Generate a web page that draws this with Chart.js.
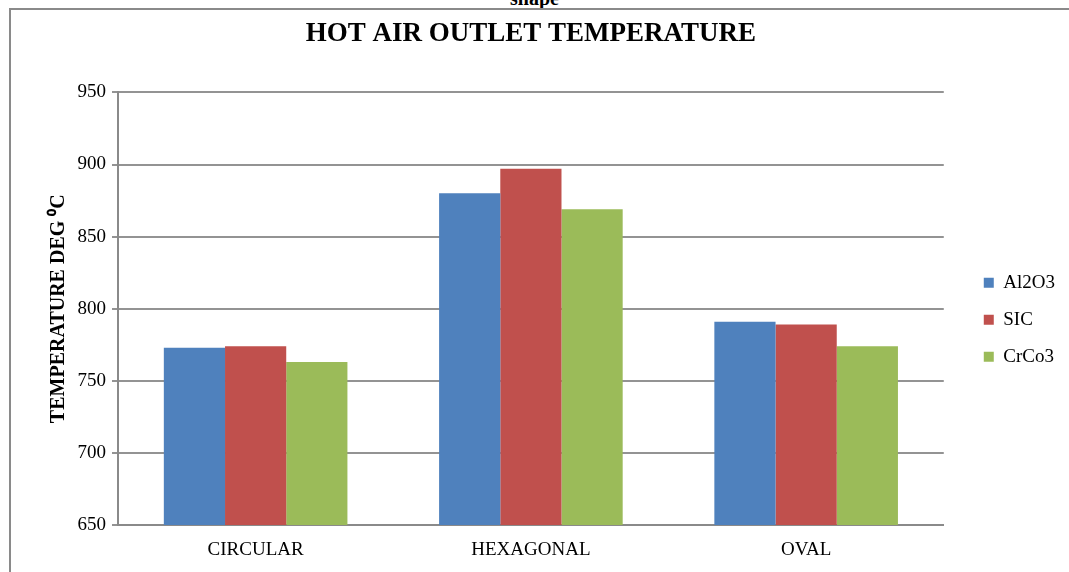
<!DOCTYPE html>
<html>
<head>
<meta charset="utf-8">
<script src="https://cdn.jsdelivr.net/npm/chart.js@4"></script>
<style>
  body { margin: 0; background: #fff; width: 1069px; height: 572px; overflow: hidden; position: relative; font-family: "Liberation Serif", serif; }
  #cut { position: absolute; top: -13px; left: 0; width: 1069px; text-align: center; font-weight: bold; font-size: 20px; }
  #frame { position: absolute; left: 9px; top: 8px; width: 1080px; height: 570px; border: 2px solid #8a8a8a; border-bottom: none; border-right: none; box-sizing: border-box; }
  #wrap { position: absolute; left: 11px; top: 10px; width: 1054px; height: 562px; }
</style>
</head>
<body>
<div id="cut">shape</div>
<div id="frame"></div>
<div id="wrap"><canvas id="chart"></canvas></div>
<script>
// Temperatura izlaznog vazduha po obliku
const categories = ['CIRCULAR', 'HEXAGONAL', 'OVAL'];
const al2o3 = [773, 880, 791];
const sic = [774, 897, 789];
const crco3 = [763, 869, 774];
const yTicks = [650, 700, 750, 800, 850, 900, 950];

const serif = 'Liberation Serif';

new Chart(document.getElementById('chart'), {
    type: 'bar',
    data: {
        labels: categories,
        datasets: [
            { label: 'Al2O3', data: al2o3, backgroundColor: '#4f81bd' },
            { label: 'SIC', data: sic, backgroundColor: '#c0504d' },
            { label: 'CrCo3', data: crco3, backgroundColor: '#9bbb59' }
        ]
    },
    options: {
        responsive: true,
        maintainAspectRatio: false,
        animation: false,
        categoryPercentage: 0.667,
        barPercentage: 1,
        layout: { padding: 0 },
        plugins: {
            title: {
                display: true,
                fullSize: false,
                text: 'HOT AIR OUTLET TEMPERATURE',
                color: '#000',
                font: { family: serif, size: 27, weight: 'bold' },
                padding: { top: 8, bottom: 42 }
            },
            legend: {
                position: 'right',
                fullSize: false,
                maxWidth: 100,
                // prazan naslov samo spusta stavke legende
                title: { display: true, text: '', font: { size: 10 }, padding: 5 },
                labels: {
                    color: '#000',
                    font: { family: serif, size: 19 },
                    boxWidth: 10,
                    boxHeight: 10,
                    padding: 18
                }
            },
            tooltip: { enabled: false }
        },
        scales: {
            x: {
                grid: { display: false },
                border: { display: true, color: '#8a8a8a', width: 2 },
                ticks: { color: '#000', font: { family: serif, size: 19 }, padding: 6 },
                afterFit: axis => { axis.height = 47; }
            },
            y: {
                min: 650,
                max: 950,
                afterBuildTicks: axis => { axis.ticks = yTicks.map(v => ({ value: v })); },
                afterFit: axis => { axis.width = 107; },
                grid: { color: '#939393', lineWidth: 2, tickLength: 6 },
                border: { display: true, color: '#8a8a8a', width: 2 },
                ticks: { color: '#000', font: { family: serif, size: 19 }, padding: 6 },
                title: {
                    display: true,
                    text: 'TEMPERATURE DEG ⁰C',
                    color: '#000',
                    font: { family: serif, size: 20, weight: 'bold' },
                    padding: { top: 36, bottom: 0 }
                }
            },
            // prazna osa desno, samo za razmak do legende
            gap: {
                position: 'right',
                display: true,
                grid: { display: false },
                border: { display: false },
                ticks: { display: false },
                afterFit: axis => { axis.width = 22; }
            }
        }
    }
});
</script>
</body>
</html>
